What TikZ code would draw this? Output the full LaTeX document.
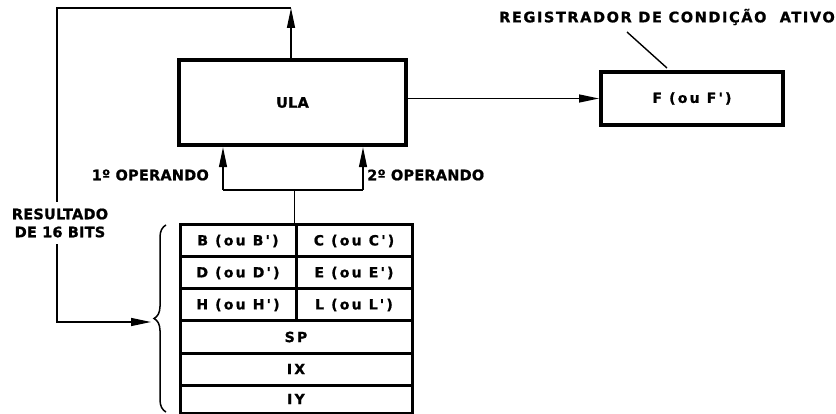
\documentclass[tikz,border=0pt]{standalone}
\usepackage{fontspec}
\usetikzlibrary{arrows.meta,decorations.pathreplacing}
\newfontfamily\lblfam{DejaVu Sans}[LetterSpace=1.5, FakeBold=1]
\newfontfamily\widefam{DejaVu Sans}[LetterSpace=11, FakeBold=1]
\newfontfamily\regfam{DejaVu Sans}[LetterSpace=16, FakeBold=1]
\tikzset{
  lbl/.style={font=\lblfam\bfseries\fontsize{14.5}{18}\selectfont, inner sep=0pt},
  wlbl/.style={font=\widefam\bfseries\fontsize{14.5}{18}\selectfont, inner sep=0pt},
  rlbl/.style={font=\regfam\bfseries\fontsize{14}{16}\selectfont},
  bigbox/.style={draw, line width=4.5pt, inner sep=0pt},
  cell/.style={draw, line width=3pt, rlbl, inner sep=0pt, anchor=north west},
  conn/.style={line width=1.4pt},
  arr/.style={conn, -{Triangle[length=20pt,width=8pt]}}
}
\begin{document}
\begin{tikzpicture}[x=1pt,y=-1pt]
\useasboundingbox (0,0) rectangle (836,414);
% boxes
\node[bigbox, minimum width=227pt, minimum height=85pt, lbl] (ula) at (292.5,102.5) {ULA};
\node[bigbox, line width=4pt, minimum width=182pt, minimum height=53pt, rlbl] (f) at (692,98.5) {F (ou F')};
\node[wlbl] (regcond) at (667,17) {REGISTRADOR DE CONDIÇÃO\ \ ATIVO};
% register block
\node[cell, minimum width=116pt, minimum height=32pt] (b) at (178.5,223.5) {B (ou B')};
\node[cell, minimum width=116pt, minimum height=32pt] (c) at (294.5,223.5) {C (ou C')};
\node[cell, minimum width=116pt, minimum height=32pt] (d) at (178.5,255.5) {D (ou D')};
\node[cell, minimum width=116pt, minimum height=32pt] (e) at (294.5,255.5) {E (ou E')};
\node[cell, minimum width=116pt, minimum height=32pt] (h) at (178.5,287.5) {H (ou H')};
\node[cell, minimum width=116pt, minimum height=32pt] (l) at (294.5,287.5) {L (ou L')};
\node[cell, minimum width=232pt, minimum height=32pt] (sp) at (178.5,319.5) {SP};
\node[cell, minimum width=232pt, minimum height=32pt] (ix) at (178.5,351.5) {IX};
\node[cell, minimum width=232pt, minimum height=28pt] (iy) at (178.5,383.5) {IY};
% operand connectors
\coordinate (jm) at (294.5,190);
\coordinate (jl) at (223,190);
\coordinate (jr) at (363,190);
\draw[conn] (c.north west) -- (jm);
\draw[conn] (jl) -- (jr);
\draw[arr] (jl) -- (jl |- ula.south);
\draw[arr] (jr) -- (jr |- ula.south);
\node[lbl, anchor=east] (op1) at (209,175) {1º OPERANDO};
\node[lbl, anchor=west] (op2) at (367,175) {2º OPERANDO};
% ULA to F
\draw[arr] (ula.east |- f.west) -- (f.west);
% leader line
\coordinate (ld1) at (627,32);
\coordinate (ld2) at (667,68);
\draw[conn] (ld1) -- (ld2);
% result loop
\coordinate (tr) at (291,8);
\coordinate (tl) at (57,8);
\coordinate (bl) at (57,322);
\coordinate (tip) at (151,322);
\draw[arr] (ula.north -| tr) -- (tr);
\draw[arr] (tr) -- (tl) -- (bl) -- (tip);
\node[lbl, align=center, fill=white, inner xsep=0pt, inner ysep=7pt] (res) at (60,223) {RESULTADO\\DE 16 BITS};
% brace
\draw[line width=1.5pt, decorate, decoration={brace, amplitude=12pt}] (166,412) -- (166,225);
\end{tikzpicture}
\end{document}
